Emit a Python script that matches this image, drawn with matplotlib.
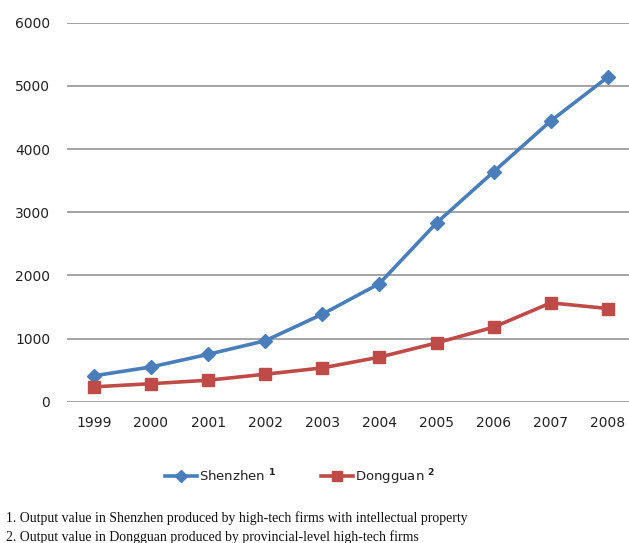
import matplotlib.pyplot as plt

# High-tech output value, 1999-2008
years = ['1999', '2000', '2001', '2002', '2003', '2004', '2005', '2006', '2007', '2008']
shenzhen = [410, 550, 750, 965, 1385, 1870, 2830, 3640, 4445, 5140]
dongguan = [235, 285, 340, 435, 535, 705, 930, 1180, 1565, 1475]
y_ticks = [0, 1000, 2000, 3000, 4000, 5000, 6000]
notes = [
    '1. Output value in Shenzhen produced by high-tech firms with intellectual property',
    '2. Output value in Dongguan produced by provincial-level high-tech firms',
]

fig = plt.figure(figsize=(6.29, 5.43), dpi=100)
ax = fig.add_axes([67 / 629, 1 - 401.7 / 543, 1 - 67 / 629, (401.7 - 22.7) / 543])

x = list(range(len(years)))
ax.plot(x, shenzhen, color='#4A7EBB', lw=2.6, marker='D', ms=7,
        label='Shenzhen $^{\\mathbf{1}}$', zorder=3)
ax.plot(x, dongguan, color='#BE4B48', lw=2.6, marker='s', ms=9,
        label='Dongguan $^{\\mathbf{2}}$', zorder=3)

ax.set_xlim(-0.47, 9.37)
ax.set_ylim(0, 6000)
ax.set_xticks(x)
ax.set_xticklabels(years)
ax.set_yticks(y_ticks)
ax.yaxis.grid(True, color='#8c8c8c', lw=1.1)
ax.set_axisbelow(True)
for s in ax.spines.values():
    s.set_visible(False)
ax.tick_params(length=0, labelsize=10, colors='#222222')
ax.tick_params(axis='y', pad=12)
ax.tick_params(axis='x', pad=10)

fig.legend(loc='center', bbox_to_anchor=(0.477, 1 - 477 / 543), ncol=2,
           frameon=False, fontsize=9.5, handlelength=2.4, columnspacing=3.4,
           handletextpad=0.15, labelcolor='#222222', markerscale=0.85)

for i, line in enumerate(notes):
    fig.text(6 / 629, 1 - (518 + 19 * i) / 543, line, family='Liberation Serif',
             fontsize=9.9, va='center', ha='left', color='#111111')

fig.savefig('out.png', dpi=100, facecolor='white')
